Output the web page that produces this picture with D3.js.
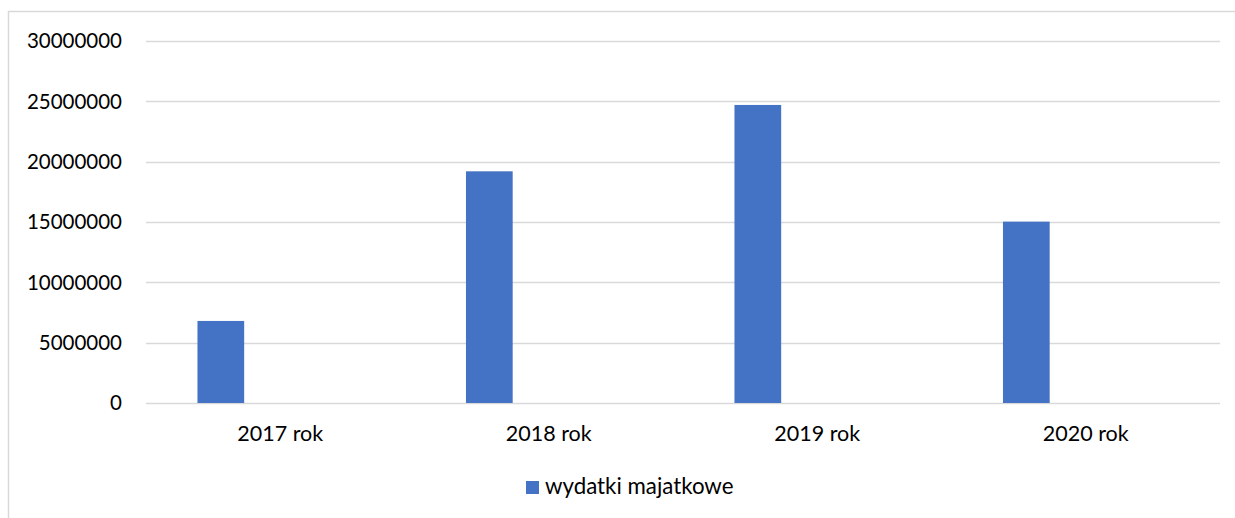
<!DOCTYPE html>
<meta charset="utf-8">
<style>
  body { margin:0; background:#fff; }
  text { font-family: Lato, 'Open Sans', sans-serif; fill:#000; }
</style>
<script src="https://d3js.org/d3.v7.min.js"></script>
<body>
<div id="chart"></div>
<script>

// data
var categories = ["2017 rok", "2018 rok", "2019 rok", "2020 rok"]
var wydatki = [6800000, 19200000, 24700000, 15030000]
var yTicks = [0, 5000000, 10000000, 15000000, 20000000, 25000000, 30000000]
var seriesNames = ["wydatki majatkowe", ""]   // second slot is empty in the original

var width = 1235, height = 518
var margin = {left: 146, right: 15, top: 41, bottom: 115}

var svg = d3.select("#chart").append("svg")
    .attr("width", width)
    .attr("height", height)

// outer chart border (only top and left show inside the picture)
svg.append("rect")
    .attr("x", 8.5).attr("y", 11.5)
    .attr("width", width + 20).attr("height", height + 20)
    .attr("fill", "none")
    .attr("stroke", "#d9d9d9")
    .attr("stroke-width", 1.5)

var x = d3.scaleBand()
    .domain(categories)
    .range([margin.left, width - margin.right])

var inner = d3.scaleBand()
    .domain(seriesNames)
    .range([0, x.bandwidth()])
    .paddingInner(0.607)
    .paddingOuter(0.433)

var y = d3.scaleLinear()
    .domain([0, 30000000])
    .range([height - margin.bottom, margin.top])

// grid lines
svg.append("g")
  .selectAll("line")
  .data(yTicks)
  .enter()
  .append("line")
    .attr("x1", margin.left)
    .attr("x2", width - margin.right)
    .attr("y1", function(d){ return Math.round(y(d)) + 0.5 })
    .attr("y2", function(d){ return Math.round(y(d)) + 0.5 })
    .attr("stroke", "#d9d9d9")
    .attr("stroke-width", 1.5)

// y labels
svg.append("g")
  .selectAll("text")
  .data(yTicks)
  .enter()
  .append("text")
    .attr("x", margin.left - 24)
    .attr("y", function(d){ return y(d) })
    .attr("dy", "0.36em")
    .attr("text-anchor", "end")
    .style("font-size", "20.5px")
    .text(function(d){ return d3.format("d")(d) })

// bars
svg.append("g")
  .selectAll("rect")
  .data(wydatki)
  .enter()
  .append("rect")
    .attr("x", function(d,i){ return x(categories[i]) + inner(seriesNames[0]) })
    .attr("width", inner.bandwidth())
    .attr("y", function(d){ return y(d) })
    .attr("height", function(d){ return y(0) - y(d) })
    .attr("fill", "#4472c4")

// x labels
svg.append("g")
  .selectAll("text")
  .data(categories)
  .enter()
  .append("text")
    .attr("x", function(d){ return x(d) + x.bandwidth() / 2 })
    .attr("y", 441)
    .attr("text-anchor", "middle")
    .style("font-size", "21.5px")
    .text(function(d){ return d })

// legend
var legend = svg.append("g")
legend.append("rect")
    .attr("x", 526).attr("y", 481)
    .attr("width", 13).attr("height", 13)
    .attr("fill", "#4472c4")
legend.append("text")
    .attr("x", 545)
    .attr("y", 494)
    .style("font-size", "22.3px")
    .text(seriesNames[0])

</script>
</body>
